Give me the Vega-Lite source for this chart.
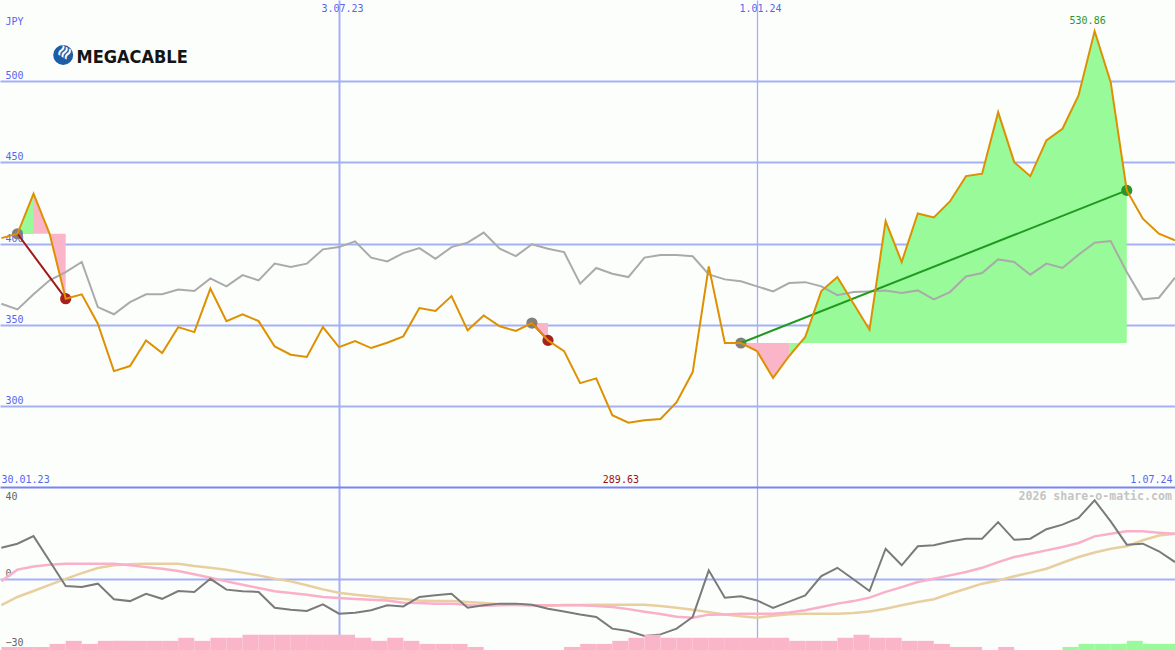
{
  "$schema": "https://vega.github.io/schema/vega-lite/v6.json",
  "background": "#fcfefc",
  "padding": {"left": -4, "top": 0, "right": 0, "bottom": 0},
  "autosize": {"type": "pad"},
  "spacing": 0,
  "bounds": "flush",
  "config": {"view": {"stroke": null}},
  "resolve": {"scale": {"color": "independent", "fill": "independent", "stroke": "independent"}},
  "datasets": {
    "weekly": [
      {"d":"2023-02-06","px":403.3,"ref":362.9,"mom":13.5,"ma1":-1.0,"ma2":-11.5,"lvl":1,"dir":"down"},
      {"d":"2023-02-13","px":406.0,"ref":359.4,"mom":15.3,"ma1":4.0,"ma2":-7.9,"lvl":1,"dir":"down","downBase":406.0,"upBase":406.0},
      {"d":"2023-02-20","px":430.7,"ref":368.7,"mom":18.6,"ma1":5.4,"ma2":-5.3,"lvl":1,"dir":"down","downBase":406.0,"upBase":406.0},
      {"d":"2023-02-27","px":406.0,"ref":377.3,"mom":7.8,"ma1":6.1,"ma2":-2.6,"lvl":2,"dir":"down","downBase":406.0},
      {"d":"2023-03-06","px":366.0,"ref":382.4,"mom":-3.1,"ma1":6.6,"ma2":0.0,"lvl":3,"dir":"down","downBase":406.0},
      {"d":"2023-03-13","px":368.7,"ref":388.6,"mom":-3.6,"ma1":6.6,"ma2":2.5,"lvl":2,"dir":"down"},
      {"d":"2023-03-20","px":350.6,"ref":360.8,"mom":-2.1,"ma1":6.6,"ma2":4.7,"lvl":3,"dir":"down"},
      {"d":"2023-03-27","px":321.4,"ref":356.4,"mom":-8.9,"ma1":6.6,"ma2":5.9,"lvl":3,"dir":"down"},
      {"d":"2023-04-03","px":324.5,"ref":363.9,"mom":-9.7,"ma1":5.9,"ma2":6.3,"lvl":3,"dir":"down"},
      {"d":"2023-04-10","px":340.3,"ref":368.7,"mom":-6.5,"ma1":5.1,"ma2":6.6,"lvl":3,"dir":"down"},
      {"d":"2023-04-17","px":332.5,"ref":368.7,"mom":-8.7,"ma1":4.4,"ma2":6.6,"lvl":3,"dir":"down"},
      {"d":"2023-04-24","px":348.5,"ref":371.6,"mom":-5.3,"ma1":3.4,"ma2":6.6,"lvl":4,"dir":"down"},
      {"d":"2023-05-01","px":345.4,"ref":370.7,"mom":-5.7,"ma1":2.0,"ma2":5.6,"lvl":3,"dir":"down"},
      {"d":"2023-05-08","px":372.2,"ref":378.5,"mom":0.0,"ma1":0.5,"ma2":4.8,"lvl":4,"dir":"down"},
      {"d":"2023-05-15","px":352.2,"ref":373.6,"mom":-4.7,"ma1":-1.1,"ma2":4.0,"lvl":4,"dir":"down"},
      {"d":"2023-05-22","px":356.4,"ref":380.5,"mom":-5.4,"ma1":-2.6,"ma2":2.7,"lvl":5,"dir":"down"},
      {"d":"2023-05-29","px":352.2,"ref":377.3,"mom":-5.7,"ma1":-4.0,"ma2":1.5,"lvl":5,"dir":"down"},
      {"d":"2023-06-05","px":336.6,"ref":387.6,"mom":-12.6,"ma1":-5.4,"ma2":0.0,"lvl":5,"dir":"down"},
      {"d":"2023-06-12","px":331.5,"ref":385.5,"mom":-13.5,"ma1":-6.2,"ma2":-1.1,"lvl":5,"dir":"down"},
      {"d":"2023-06-19","px":330.1,"ref":387.6,"mom":-14.0,"ma1":-6.9,"ma2":-2.8,"lvl":5,"dir":"down"},
      {"d":"2023-06-26","px":348.5,"ref":396.4,"mom":-11.1,"ma1":-7.9,"ma2":-4.6,"lvl":5,"dir":"down"},
      {"d":"2023-07-03","px":336.2,"ref":397.8,"mom":-15.2,"ma1":-8.4,"ma2":-6.1,"lvl":5,"dir":"down"},
      {"d":"2023-07-10","px":339.9,"ref":401.3,"mom":-14.8,"ma1":-8.8,"ma2":-6.9,"lvl":4,"dir":"down"},
      {"d":"2023-07-17","px":335.6,"ref":391.3,"mom":-13.7,"ma1":-9.1,"ma2":-7.6,"lvl":3,"dir":"down"},
      {"d":"2023-07-24","px":338.9,"ref":389.0,"mom":-11.5,"ma1":-9.4,"ma2":-8.4,"lvl":4,"dir":"down"},
      {"d":"2023-07-31","px":342.8,"ref":394.1,"mom":-12.0,"ma1":-10.4,"ma2":-8.8,"lvl":3,"dir":"down"},
      {"d":"2023-08-07","px":360.2,"ref":397.2,"mom":-7.9,"ma1":-10.5,"ma2":-9.4,"lvl":2,"dir":"down"},
      {"d":"2023-08-14","px":358.4,"ref":390.6,"mom":-7.2,"ma1":-10.8,"ma2":-9.7,"lvl":2,"dir":"down"},
      {"d":"2023-08-21","px":367.6,"ref":397.8,"mom":-6.5,"ma1":-10.8,"ma2":-9.7,"lvl":2,"dir":"down"},
      {"d":"2023-08-28","px":346.5,"ref":400.5,"mom":-12.6,"ma1":-11.4,"ma2":-10.1,"lvl":1,"dir":"down"},
      {"d":"2023-09-04","px":355.7,"ref":406.7,"mom":-11.5,"ma1":-11.7,"ma2":-10.5,"lvl":0,"dir":"down"},
      {"d":"2023-09-11","px":349.0,"ref":396.8,"mom":-10.8,"ma1":-11.5,"ma2":-11.1,"lvl":0,"dir":"down"},
      {"d":"2023-09-18","px":346.1,"ref":392.2,"mom":-10.8,"ma1":-11.4,"ma2":-11.3,"lvl":0,"dir":"down"},
      {"d":"2023-09-25","px":351.0,"ref":399.5,"mom":-11.3,"ma1":-11.5,"ma2":-11.5,"lvl":0,"dir":"down","downBase":351.0},
      {"d":"2023-10-02","px":340.3,"ref":396.8,"mom":-13.0,"ma1":-11.5,"ma2":-11.7,"lvl":0,"dir":"down","downBase":351.0},
      {"d":"2023-10-09","px":333.7,"ref":394.7,"mom":-14.2,"ma1":-11.5,"ma2":-11.4,"lvl":1,"dir":"down"},
      {"d":"2023-10-16","px":314.0,"ref":375.3,"mom":-15.5,"ma1":-11.5,"ma2":-11.4,"lvl":2,"dir":"down"},
      {"d":"2023-10-23","px":316.9,"ref":384.9,"mom":-16.6,"ma1":-11.8,"ma2":-11.3,"lvl":2,"dir":"down"},
      {"d":"2023-10-30","px":294.2,"ref":381.4,"mom":-21.7,"ma1":-12.3,"ma2":-11.3,"lvl":3,"dir":"down"},
      {"d":"2023-11-06","px":289.63,"ref":379.3,"mom":-22.7,"ma1":-13.2,"ma2":-11.3,"lvl":4,"dir":"down"},
      {"d":"2023-11-13","px":291.1,"ref":391.3,"mom":-24.9,"ma1":-14.3,"ma2":-11.3,"lvl":5,"dir":"down"},
      {"d":"2023-11-20","px":291.9,"ref":392.9,"mom":-24.2,"ma1":-15.3,"ma2":-11.8,"lvl":4,"dir":"down"},
      {"d":"2023-11-27","px":302.3,"ref":392.9,"mom":-21.7,"ma1":-16.5,"ma2":-12.6,"lvl":4,"dir":"down"},
      {"d":"2023-12-04","px":320.8,"ref":392.1,"mom":-16.6,"ma1":-16.9,"ma2":-13.5,"lvl":4,"dir":"down"},
      {"d":"2023-12-11","px":385.9,"ref":381.0,"mom":3.7,"ma1":-15.6,"ma2":-14.5,"lvl":4,"dir":"down"},
      {"d":"2023-12-18","px":338.7,"ref":377.9,"mom":-8.2,"ma1":-15.5,"ma2":-15.5,"lvl":4,"dir":"down"},
      {"d":"2023-12-25","px":338.7,"ref":376.7,"mom":-7.6,"ma1":-15.2,"ma2":-16.3,"lvl":4,"dir":"down","downBase":338.7},
      {"d":"2024-01-01","px":333.7,"ref":373.6,"mom":-9.4,"ma1":-15.2,"ma2":-16.9,"lvl":4,"dir":"down","downBase":338.7},
      {"d":"2024-01-08","px":317.2,"ref":370.5,"mom":-12.7,"ma1":-15.2,"ma2":-16.1,"lvl":4,"dir":"down","downBase":338.7},
      {"d":"2024-01-15","px":330.7,"ref":375.6,"mom":-9.9,"ma1":-14.7,"ma2":-15.4,"lvl":3,"dir":"down","downBase":338.7,"upBase":338.7},
      {"d":"2024-01-22","px":342.4,"ref":376.2,"mom":-7.2,"ma1":-13.7,"ma2":-15.2,"lvl":3,"dir":"down","upBase":338.7},
      {"d":"2024-01-29","px":370.7,"ref":373.6,"mom":1.2,"ma1":-12.3,"ma2":-15.2,"lvl":3,"dir":"down","upBase":338.7},
      {"d":"2024-02-05","px":379.3,"ref":368.2,"mom":4.8,"ma1":-10.8,"ma2":-15.2,"lvl":4,"dir":"down","upBase":338.7},
      {"d":"2024-02-12","px":363.1,"ref":370.1,"mom":-0.2,"ma1":-9.7,"ma2":-14.9,"lvl":5,"dir":"down","upBase":338.7},
      {"d":"2024-02-19","px":346.9,"ref":370.5,"mom":-5.3,"ma1":-8.2,"ma2":-14.2,"lvl":4,"dir":"down","upBase":338.7},
      {"d":"2024-02-26","px":413.8,"ref":371.1,"mom":13.1,"ma1":-5.7,"ma2":-13.0,"lvl":4,"dir":"down","upBase":338.7},
      {"d":"2024-03-04","px":388.6,"ref":369.5,"mom":5.9,"ma1":-3.6,"ma2":-11.5,"lvl":3,"dir":"down","upBase":338.7},
      {"d":"2024-03-11","px":418.5,"ref":371.1,"mom":14.2,"ma1":-1.4,"ma2":-10.1,"lvl":3,"dir":"down","upBase":338.7},
      {"d":"2024-03-18","px":416.1,"ref":365.6,"mom":14.6,"ma1":0.0,"ma2":-8.9,"lvl":2,"dir":"down","upBase":338.7},
      {"d":"2024-03-25","px":425.9,"ref":370.1,"mom":16.3,"ma1":1.5,"ma2":-6.5,"lvl":1,"dir":"down","upBase":338.7},
      {"d":"2024-04-01","px":441.5,"ref":379.7,"mom":17.5,"ma1":3.0,"ma2":-4.3,"lvl":1,"dir":"down","upBase":338.7},
      {"d":"2024-04-08","px":443.0,"ref":381.8,"mom":17.5,"ma1":4.8,"ma2":-2.1,"lvl":0,"dir":"down","upBase":338.7},
      {"d":"2024-04-15","px":480.9,"ref":390.2,"mom":24.7,"ma1":7.3,"ma2":-0.7,"lvl":1,"dir":"down","upBase":338.7},
      {"d":"2024-04-22","px":450.1,"ref":388.6,"mom":17.0,"ma1":9.5,"ma2":1.1,"lvl":0,"dir":"down","upBase":338.7},
      {"d":"2024-04-29","px":441.5,"ref":380.8,"mom":17.5,"ma1":10.9,"ma2":2.7,"lvl":0,"dir":"down","upBase":338.7},
      {"d":"2024-05-06","px":463.5,"ref":387.6,"mom":21.6,"ma1":12.4,"ma2":4.4,"lvl":0,"dir":"down","upBase":338.7},
      {"d":"2024-05-13","px":470.7,"ref":384.9,"mom":23.6,"ma1":13.9,"ma2":7.0,"lvl":1,"dir":"up","upBase":338.7},
      {"d":"2024-05-20","px":491.2,"ref":393.1,"mom":26.5,"ma1":15.6,"ma2":9.5,"lvl":2,"dir":"up","upBase":338.7},
      {"d":"2024-05-27","px":530.86,"ref":400.5,"mom":34.2,"ma1":18.5,"ma2":11.5,"lvl":2,"dir":"up","upBase":338.7},
      {"d":"2024-06-03","px":499.4,"ref":401.5,"mom":25.0,"ma1":19.6,"ma2":13.1,"lvl":2,"dir":"up","upBase":338.7},
      {"d":"2024-06-10","px":432.7,"ref":382.4,"mom":14.9,"ma1":20.7,"ma2":14.2,"lvl":3,"dir":"up","upBase":338.7},
      {"d":"2024-06-17","px":415.3,"ref":365.6,"mom":15.3,"ma1":20.7,"ma2":16.8,"lvl":2,"dir":"up"},
      {"d":"2024-06-24","px":406.0,"ref":366.6,"mom":12.0,"ma1":20.1,"ma2":18.9,"lvl":2,"dir":"up"},
      {"d":"2024-07-01","px":401.9,"ref":378.9,"mom":7.3,"ma1":19.6,"ma2":19.6,"lvl":0,"dir":"up"}
    ],
    "trades": [
      {"id":1,"entry":"2023-02-13","entryPx":406.0,"exit":"2023-03-06","exitPx":366.0,"result":"loss"},
      {"id":2,"entry":"2023-09-25","entryPx":351.0,"exit":"2023-10-02","exitPx":340.3,"result":"loss"},
      {"id":3,"entry":"2023-12-25","entryPx":338.7,"exit":"2024-06-10","exitPx":432.7,"result":"win"}
    ]
  },
  "vconcat": [
    {
      "width": 1175,
      "height": 487,
      "resolve": {"axis": {"x": "independent", "y": "independent"}},
      "layer": [
        {
          "data": {"name": "weekly"},
          "transform": [{"filter": "isValid(datum.downBase)"}],
          "mark": {"type": "area", "color": "#fbb5c9", "opacity": 1},
          "encoding": {
            "x": {"field": "d", "type": "temporal", "scale": {"type": "utc", "domain": [{"year":2023,"month":2,"date":5,"hours":9,"minutes":36,"utc":true},{"year":2024,"month":7,"date":1,"utc":true}], "nice": false}, "axis": null},
            "y": {"field": "px", "type": "quantitative", "scale": {"domain": [250, 550], "nice": false, "zero": false}, "axis": null},
            "y2": {"field": "downBase"},
            "detail": {"field": "downBase", "type": "nominal"}
          }
        },
        {
          "data": {"name": "weekly"},
          "transform": [{"filter": "isValid(datum.upBase)"}],
          "mark": {"type": "area", "color": "#98fa98", "opacity": 1},
          "encoding": {
            "x": {"field": "d", "type": "temporal", "scale": {"type": "utc", "domain": [{"year":2023,"month":2,"date":5,"hours":9,"minutes":36,"utc":true},{"year":2024,"month":7,"date":1,"utc":true}], "nice": false}, "axis": null},
            "y": {"field": "px", "type": "quantitative", "scale": {"domain": [250, 550], "nice": false, "zero": false}, "axis": null},
            "y2": {"field": "upBase"},
            "detail": {"field": "upBase", "type": "nominal"}
          }
        },
        {
          "data": {"name": "weekly"},
          "mark": {"type": "line", "color": "#aaaaaa", "strokeWidth": 2},
          "encoding": {
            "x": {"field": "d", "type": "temporal", "scale": {"type": "utc", "domain": [{"year":2023,"month":2,"date":5,"hours":9,"minutes":36,"utc":true},{"year":2024,"month":7,"date":1,"utc":true}], "nice": false}, "axis": null},
            "y": {"field": "ref", "type": "quantitative", "scale": {"domain": [250, 550], "nice": false, "zero": false}, "axis": null}
          }
        },
        {
          "data": {"name": "trades"},
          "mark": {"type": "point", "filled": true, "opacity": 1, "color": "#808080", "size": 125},
          "encoding": {
            "x": {"field": "entry", "type": "temporal", "scale": {"type": "utc", "domain": [{"year":2023,"month":2,"date":5,"hours":9,"minutes":36,"utc":true},{"year":2024,"month":7,"date":1,"utc":true}], "nice": false}, "axis": null},
            "y": {"field": "entryPx", "type": "quantitative", "scale": {"domain": [250, 550], "nice": false, "zero": false}, "axis": null}
          }
        },
        {
          "data": {"name": "trades"},
          "mark": {"type": "point", "filled": true, "opacity": 1, "size": 125},
          "encoding": {
            "x": {"field": "exit", "type": "temporal", "scale": {"type": "utc", "domain": [{"year":2023,"month":2,"date":5,"hours":9,"minutes":36,"utc":true},{"year":2024,"month":7,"date":1,"utc":true}], "nice": false}, "axis": null},
            "y": {"field": "exitPx", "type": "quantitative", "scale": {"domain": [250, 550], "nice": false, "zero": false}, "axis": null},
            "color": {"field": "result", "type": "nominal", "scale": {"domain": ["loss", "win"], "range": ["#a62020", "#2a962a"]}, "legend": null}
          }
        },
        {
          "data": {"name": "trades"},
          "mark": {"type": "rule", "strokeWidth": 2},
          "encoding": {
            "x": {"field": "entry", "type": "temporal", "scale": {"type": "utc", "domain": [{"year":2023,"month":2,"date":5,"hours":9,"minutes":36,"utc":true},{"year":2024,"month":7,"date":1,"utc":true}], "nice": false}, "axis": null},
            "x2": {"field": "exit"},
            "y": {"field": "entryPx", "type": "quantitative", "scale": {"domain": [250, 550], "nice": false, "zero": false}, "axis": null},
            "y2": {"field": "exitPx"},
            "stroke": {"field": "result", "type": "nominal", "scale": {"domain": ["loss", "win"], "range": ["#a31818", "#1f9a1f"]}, "legend": null}
          }
        },
        {
          "data": {"name": "weekly"},
          "mark": {"type": "line", "color": "#de9000", "strokeWidth": 2},
          "encoding": {
            "x": {
              "field": "d", "type": "temporal",
              "scale": {"type": "utc", "domain": [{"year":2023,"month":2,"date":5,"hours":9,"minutes":36,"utc":true},{"year":2024,"month":7,"date":1,"utc":true}], "nice": false},
              "axis": {
                "orient": "top",
                "values": [{"year":2023,"month":7,"date":3,"utc":true},{"year":2024,"month":1,"date":1,"utc":true}],
                "format": "%-d.%m.%y",
                "labelColor": "#5466f0", "labelFont": "DejaVu Sans Mono", "labelFontSize": 10,
                "labelBaseline": "top", "labelPadding": -3.5, "labelOffset": 3, "labelFlush": false, "labelOverlap": false,
                "domain": false, "ticks": false, "tickSize": 0,
                "grid": true, "gridColor": "#a4b0f4",
                "gridWidth": {"condition": {"test": "utcmonth(datum.value) === 6", "value": 2}, "value": 1.3},
                "title": null
              }
            },
            "y": {
              "field": "px", "type": "quantitative",
              "scale": {"domain": [250, 550], "nice": false, "zero": false},
              "axis": {
                "orient": "left",
                "values": [300, 350, 400, 450, 500],
                "labelColor": "#5466f0", "labelFont": "DejaVu Sans Mono", "labelFontSize": 10,
                "labelAlign": "left", "labelBaseline": "alphabetic", "labelPadding": -5, "labelOffset": -2.5,
                "labelFlush": false, "labelOverlap": false,
                "domain": false, "ticks": false, "tickSize": 0,
                "grid": true, "gridColor": "#a4b0f4", "gridWidth": 2,
                "title": "JPY", "titleAngle": 0, "titleX": 5, "titleY": 24, "titleAlign": "left", "titleBaseline": "alphabetic",
                "titleColor": "#5466f0", "titleFont": "DejaVu Sans Mono", "titleFontSize": 10, "titleFontWeight": "normal"
              }
            }
          }
        },
        {
          "data": {"name": "weekly"},
          "transform": [
            {"joinaggregate": [{"op": "max", "field": "px", "as": "hi"}]},
            {"filter": "datum.px === datum.hi"}
          ],
          "mark": {"type": "text", "font": "DejaVu Sans Mono", "fontSize": 10, "color": "#2a962a", "align": "center", "baseline": "alphabetic", "dx": -7, "dy": -7},
          "encoding": {
            "x": {"field": "d", "type": "temporal", "scale": {"type": "utc", "domain": [{"year":2023,"month":2,"date":5,"hours":9,"minutes":36,"utc":true},{"year":2024,"month":7,"date":1,"utc":true}], "nice": false}, "axis": null},
            "y": {"field": "px", "type": "quantitative", "scale": {"domain": [250, 550], "nice": false, "zero": false}, "axis": null},
            "text": {"field": "px", "type": "quantitative", "format": ".2f"}
          }
        },
        {
          "data": {"name": "weekly"},
          "transform": [
            {"joinaggregate": [{"op": "min", "field": "px", "as": "lo"}]},
            {"filter": "datum.px === datum.lo"}
          ],
          "mark": {"type": "text", "font": "DejaVu Sans Mono", "fontSize": 10, "color": "#a01010", "align": "center", "baseline": "alphabetic", "dx": -7.5, "dy": -3.7},
          "encoding": {
            "x": {"field": "d", "type": "temporal", "scale": {"type": "utc", "domain": [{"year":2023,"month":2,"date":5,"hours":9,"minutes":36,"utc":true},{"year":2024,"month":7,"date":1,"utc":true}], "nice": false}, "axis": null},
            "y": {"datum": 250, "type": "quantitative", "scale": {"domain": [250, 550], "nice": false, "zero": false}, "axis": null},
            "text": {"field": "px", "type": "quantitative", "format": ".2f"}
          }
        },
        {
          "data": {"values": [{"t": "30.01.23"}]},
          "mark": {"type": "text", "font": "DejaVu Sans Mono", "fontSize": 10, "color": "#5466f0", "align": "left", "baseline": "alphabetic", "dx": 1.5, "dy": -3.7},
          "encoding": {
            "x": {"datum": {"year":2023,"month":2,"date":5,"hours":9,"minutes":36,"utc":true}, "type": "temporal", "scale": {"type": "utc", "domain": [{"year":2023,"month":2,"date":5,"hours":9,"minutes":36,"utc":true},{"year":2024,"month":7,"date":1,"utc":true}], "nice": false}, "axis": null},
            "y": {"datum": 250, "type": "quantitative", "scale": {"domain": [250, 550], "nice": false, "zero": false}, "axis": null},
            "text": {"field": "t"}
          }
        },
        {
          "data": {"values": [{"t": "1.07.24"}]},
          "mark": {"type": "text", "font": "DejaVu Sans Mono", "fontSize": 10, "color": "#5466f0", "align": "right", "baseline": "alphabetic", "dx": -2.5, "dy": -3.7},
          "encoding": {
            "x": {"datum": {"year":2024,"month":7,"date":1,"utc":true}, "type": "temporal", "scale": {"type": "utc", "domain": [{"year":2023,"month":2,"date":5,"hours":9,"minutes":36,"utc":true},{"year":2024,"month":7,"date":1,"utc":true}], "nice": false}, "axis": null},
            "y": {"datum": 250, "type": "quantitative", "scale": {"domain": [250, 550], "nice": false, "zero": false}, "axis": null},
            "text": {"field": "t"}
          }
        },
        {
          "data": {"values": [{"t": "MEGACABLE"}]},
          "mark": {"type": "point", "shape": "circle", "filled": true, "opacity": 1, "color": "#1d5ca6", "size": 400},
          "encoding": {
            "x": {"datum": {"year":2023,"month":3,"date":4,"hours":22,"utc":true}, "type": "temporal", "scale": {"type": "utc", "domain": [{"year":2023,"month":2,"date":5,"hours":9,"minutes":36,"utc":true},{"year":2024,"month":7,"date":1,"utc":true}], "nice": false}, "axis": null},
            "y": {"datum": 516.1, "type": "quantitative", "scale": {"domain": [250, 550], "nice": false, "zero": false}, "axis": null}
          }
        },
        {
          "data": {"values": [{"t": "≋"}]},
          "mark": {"type": "text", "font": "DejaVu Sans", "fontSize": 17, "fontWeight": "bold", "color": "#ffffff", "align": "center", "baseline": "middle", "angle": 300, "dx": 3, "dy": 0},
          "encoding": {
            "x": {"datum": {"year":2023,"month":3,"date":4,"hours":22,"utc":true}, "type": "temporal", "scale": {"type": "utc", "domain": [{"year":2023,"month":2,"date":5,"hours":9,"minutes":36,"utc":true},{"year":2024,"month":7,"date":1,"utc":true}], "nice": false}, "axis": null},
            "y": {"datum": 516.1, "type": "quantitative", "scale": {"domain": [250, 550], "nice": false, "zero": false}, "axis": null},
            "text": {"field": "t"}
          }
        },
        {
          "data": {"values": [{"t": "MEGACABLE"}]},
          "mark": {"type": "text", "font": "DejaVu Sans Condensed, Liberation Sans Narrow, DejaVu Sans", "fontSize": 18, "fontWeight": "bold", "color": "#151515", "align": "left", "baseline": "alphabetic"},
          "encoding": {
            "x": {"datum": {"year":2023,"month":3,"date":10,"hours":18,"utc":true}, "type": "temporal", "scale": {"type": "utc", "domain": [{"year":2023,"month":2,"date":5,"hours":9,"minutes":36,"utc":true},{"year":2024,"month":7,"date":1,"utc":true}], "nice": false}, "axis": null},
            "y": {"datum": 510.9, "type": "quantitative", "scale": {"domain": [250, 550], "nice": false, "zero": false}, "axis": null},
            "text": {"field": "t"}
          }
        }
      ]
    },
    {
      "width": 1175,
      "height": 163,
      "resolve": {"scale": {"y": "independent"}, "axis": {"x": "independent", "y": "independent"}},
      "layer": [
        {
          "data": {"name": "weekly"},
          "mark": {"type": "line", "color": "#e8cfa0", "strokeWidth": 2.5},
          "encoding": {
            "x": {"field": "d", "type": "temporal", "scale": {"type": "utc", "domain": [{"year":2023,"month":2,"date":5,"hours":9,"minutes":36,"utc":true},{"year":2024,"month":7,"date":1,"utc":true}], "nice": false}, "axis": null},
            "y": {"field": "ma2", "type": "quantitative", "scale": {"domain": [-31, 40], "nice": false, "zero": false}, "axis": null}
          }
        },
        {
          "data": {"name": "weekly"},
          "mark": {"type": "line", "color": "#f9b0c8", "strokeWidth": 2.5},
          "encoding": {
            "x": {"field": "d", "type": "temporal", "scale": {"type": "utc", "domain": [{"year":2023,"month":2,"date":5,"hours":9,"minutes":36,"utc":true},{"year":2024,"month":7,"date":1,"utc":true}], "nice": false}, "axis": null},
            "y": {"field": "ma1", "type": "quantitative", "scale": {"domain": [-31, 40], "nice": false, "zero": false}, "axis": null}
          }
        },
        {
          "data": {"name": "weekly"},
          "mark": {"type": "line", "color": "#7a7a7a", "strokeWidth": 2},
          "encoding": {
            "x": {
              "field": "d", "type": "temporal",
              "scale": {"type": "utc", "domain": [{"year":2023,"month":2,"date":5,"hours":9,"minutes":36,"utc":true},{"year":2024,"month":7,"date":1,"utc":true}], "nice": false},
              "axis": {
                "orient": "top",
                "values": [{"year":2023,"month":7,"date":3,"utc":true},{"year":2024,"month":1,"date":1,"utc":true}],
                "labels": false,
                "domain": true, "domainColor": "#7884f0", "domainWidth": 2,
                "ticks": false, "tickSize": 0,
                "grid": true, "gridColor": "#a4b0f4",
                "gridWidth": {"condition": {"test": "utcmonth(datum.value) === 6", "value": 2}, "value": 1.3},
                "title": null
              }
            },
            "y": {
              "field": "mom", "type": "quantitative",
              "scale": {"domain": [-31, 40], "nice": false, "zero": false},
              "axis": {
                "orient": "left",
                "values": [-30, 0, 40],
                "labelColor": "#666666", "labelFont": "DejaVu Sans Mono", "labelFontSize": 10,
                "labelAlign": "left", "labelBaseline": "alphabetic", "labelPadding": -5,
                "labelOffset": {"condition": {"test": "datum.value === 40", "value": 12}, "value": -2.5},
                "labelFlush": false, "labelOverlap": false,
                "domain": false, "ticks": false, "tickSize": 0,
                "grid": true, "gridColor": "#a4b0f4", "gridWidth": 2,
                "gridOpacity": {"condition": {"test": "datum.value === 0", "value": 1}, "value": 0},
                "title": null
              }
            }
          }
        },
        {
          "data": {"name": "weekly"},
          "transform": [
            {"window": [{"op": "lead", "field": "d", "as": "dn"}], "sort": [{"field": "d", "order": "ascending"}]},
            {"filter": "datum.lvl > 0"}
          ],
          "mark": {"type": "rect"},
          "encoding": {
            "x": {"field": "d", "type": "temporal", "scale": {"type": "utc", "domain": [{"year":2023,"month":2,"date":5,"hours":9,"minutes":36,"utc":true},{"year":2024,"month":7,"date":1,"utc":true}], "nice": false}, "axis": null},
            "x2": {"field": "dn"},
            "y": {"field": "lvl", "type": "quantitative", "scale": {"domain": [0, 53.3], "nice": false, "zero": true}, "axis": null},
            "y2": {"datum": 0},
            "fill": {"field": "dir", "type": "nominal", "scale": {"domain": ["down", "up"], "range": ["#fbb5c9", "#98fa98"]}, "legend": null}
          }
        },
        {
          "data": {"values": [{"t": "2026 share-o-matic.com"}]},
          "mark": {"type": "text", "font": "DejaVu Sans Mono", "fontSize": 11.6, "fontWeight": "bold", "color": "#c4c4c4", "align": "right", "baseline": "alphabetic", "dx": -3, "dy": 13.3},
          "encoding": {
            "x": {"datum": {"year":2024,"month":7,"date":1,"utc":true}, "type": "temporal", "scale": {"type": "utc", "domain": [{"year":2023,"month":2,"date":5,"hours":9,"minutes":36,"utc":true},{"year":2024,"month":7,"date":1,"utc":true}], "nice": false}, "axis": null},
            "y": {"datum": 40, "type": "quantitative", "scale": {"domain": [-31, 40], "nice": false, "zero": false}, "axis": null},
            "text": {"field": "t"}
          }
        }
      ]
    }
  ]
}
